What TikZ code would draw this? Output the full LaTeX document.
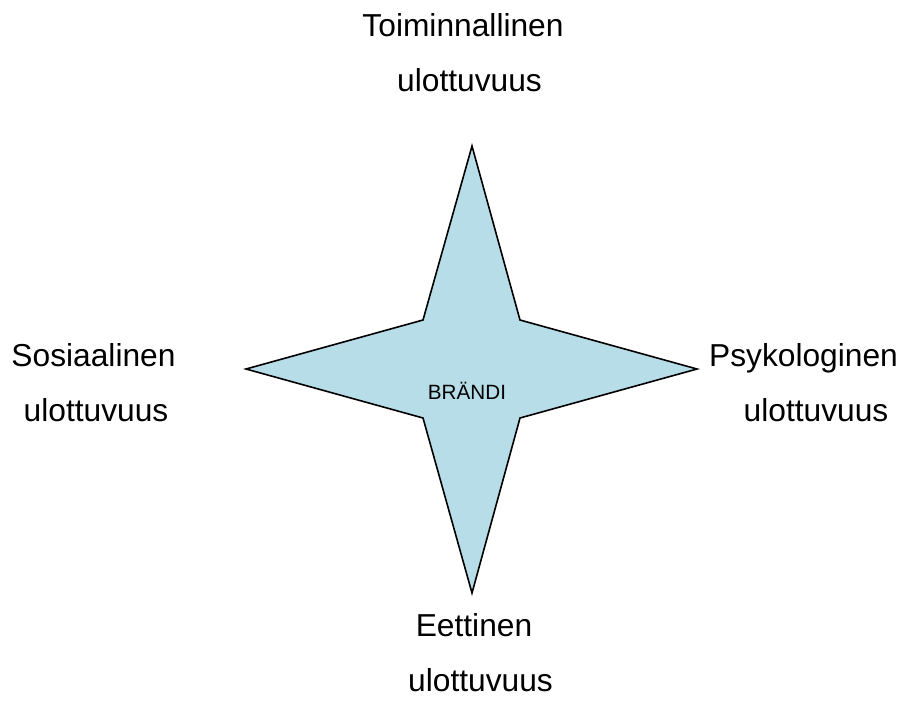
\documentclass[tikz,border=0pt]{standalone}
\usepackage{fontspec}
\setmainfont{Liberation Sans}
\definecolor{starfill}{RGB}{183,221,232}
\begin{document}
\begin{tikzpicture}[x=0.75pt,y=-0.75pt,
  lbl/.style={anchor=base,inner sep=0pt,font=\fontsize{23.8}{28}\selectfont},
  star/.style={draw=black,fill=starfill,line width=1.2pt,line join=miter}]
\useasboundingbox (0,0) rectangle (907,704);
\draw[star] (472,146) -- (520,320) -- (697,369) -- (520,418) -- (472,593)
  -- (423,418) -- (246,369) -- (423,320) -- cycle;
\node[anchor=base,inner sep=0pt,font=\fontsize{15.5}{18}\selectfont] (brand) at (467,399) {BRÄNDI};
\node[lbl] (t1) at (463,36.7) {Toiminnallinen};
\node[lbl] (t2) at (469.5,91) {ulottuvuus};
\node[lbl] (s1) at (93.5,366.7) {Sosiaalinen};
\node[lbl] (s2) at (96,421) {ulottuvuus};
\node[lbl] (p1) at (803.5,366.7) {Psykologinen};
\node[lbl] (p2) at (816,421) {ulottuvuus};
\node[lbl] (e1) at (474,636.7) {Eettinen};
\node[lbl] (e2) at (480.5,691) {ulottuvuus};
\end{tikzpicture}
\end{document}
